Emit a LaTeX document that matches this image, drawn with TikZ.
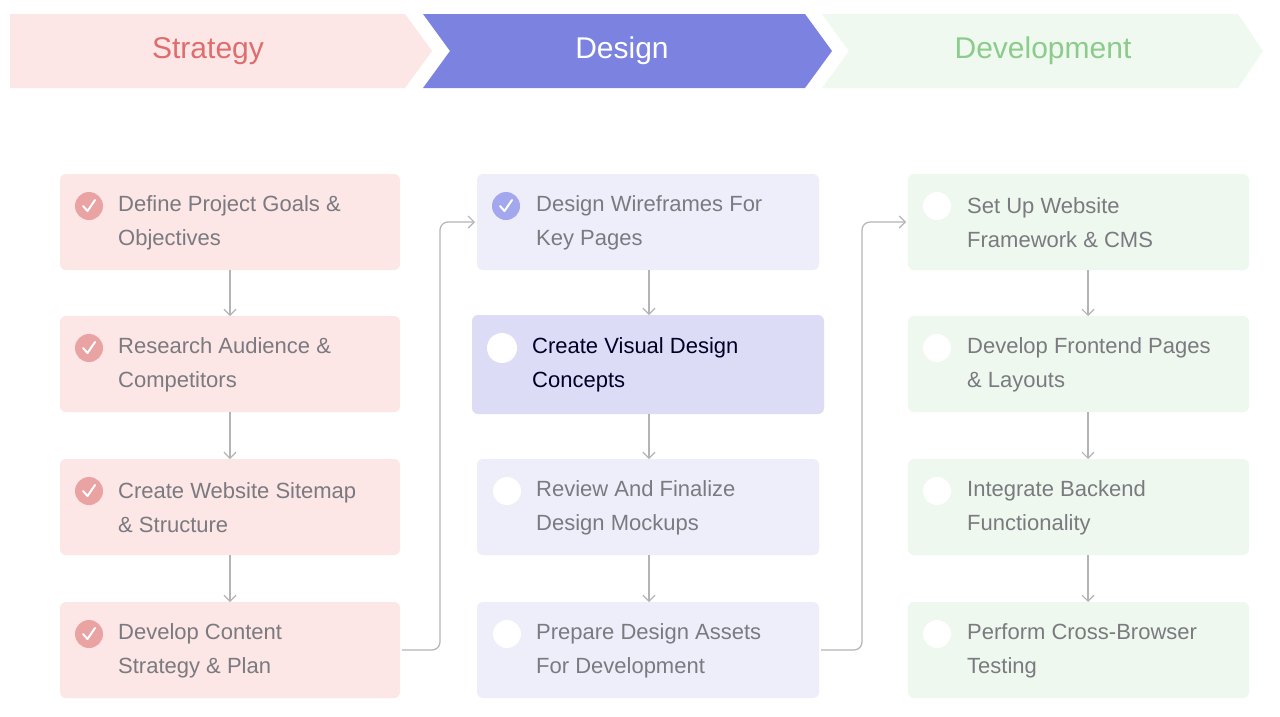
\documentclass[tikz,border=0pt]{standalone}
\usepackage{fontspec}
\setmainfont{Liberation Sans}
\usetikzlibrary{arrows.meta}
\definecolor{spink}{HTML}{FCE6E6}
\definecolor{stext}{HTML}{DE6E6E}
\definecolor{scheck}{HTML}{E9A3A3}
\definecolor{dban}{HTML}{7B82E0}
\definecolor{dbox}{HTML}{EEEEFB}
\definecolor{dhi}{HTML}{DCDCF6}
\definecolor{dcheck}{HTML}{A3A7EE}
\definecolor{gban}{HTML}{EFF9EF}
\definecolor{gtext}{HTML}{8CCB8C}
\definecolor{gbox}{HTML}{EEF8EE}
\definecolor{tgrey}{HTML}{7A7A80}
\definecolor{lgrey}{HTML}{B4B4B8}
\begin{document}
\begin{tikzpicture}[x=1pt,y=-1pt,
  box/.style={rounded corners=6pt,draw=none},
  lbl/.style={anchor=west,align=left,font=\fontsize{22}{34}\selectfont,text=tgrey,inner sep=0pt},
  ban/.style={font=\fontsize{30}{36}\selectfont},
  arr/.style={draw=lgrey,line width=1.2pt,-{Straight Barb[length=6pt,width=12pt]}},
  con/.style={draw=lgrey,line width=1.2pt,rounded corners=8pt,-{Straight Barb[length=6pt,width=12pt]}}]
\useasboundingbox (0,0) rectangle (1280,716);
\fill[white] (0,0) rectangle (1280,716);
% banners
\fill[spink] (10,14) -- (405,14) -- (432,51) -- (405,88) -- (10,88) -- cycle;
\fill[dban] (423,14) -- (805,14) -- (832,51) -- (805,88) -- (423,88) -- (450,51) -- cycle;
\fill[gban] (822,14) -- (1238,14) -- (1263,51) -- (1238,88) -- (822,88) -- (849,51) -- cycle;
\node[ban,text=stext] (hs) at (208,51) {Strategy};
\node[ban,text=white] (hd) at (622,51) {Design};
\node[ban,text=gtext] (hv) at (1043,51) {Development};
% boxes
\foreach \n/\y/\t in {s1/174/{Define Project Goals \&\\Objectives},s2/316/{Research Audience \&\\Competitors},s3/459/{Create Website Sitemap\\\& Structure},s4/602/{Develop Content\\Strategy \& Plan}}{
  \path[box,fill=spink] (60,\y) rectangle (400,\y+96);
  \coordinate (\n t) at (230,\y); \coordinate (\n b) at (230,\y+96);
  \fill[scheck] (89,\y+32) circle (14);
  \draw[white,line width=2pt,line cap=round,line join=round] (83,\y+32) -- (87.5,\y+37) -- (95,\y+26);
  \node[lbl] (\n) at (118,\y+49) {\t};
}
\foreach \n/\y/\t in {d1/174/{Design Wireframes For\\Key Pages},d3/459/{Review And Finalize\\Design Mockups},d4/602/{Prepare Design Assets\\For Development}}{
  \path[box,fill=dbox] (477,\y) rectangle (819,\y+96);
  \coordinate (\n t) at (649,\y); \coordinate (\n b) at (649,\y+96);
  \node[lbl] (\n) at (536,\y+49) {\t};
}
\fill[dcheck] (506,206) circle (14);
\draw[white,line width=2pt,line cap=round,line join=round] (500,206) -- (504.5,211) -- (512,200);
\fill[white] (507,491) circle (14);
\fill[white] (507,634) circle (14);
\path[box,fill=dhi] (472,315) rectangle (824,414);
\coordinate (d2t) at (649,315); \coordinate (d2b) at (649,414);
\fill[white] (502,348) circle (15);
\node[lbl,text=black!85!blue] (d2) at (532,365) {Create Visual Design\\Concepts};
\foreach \n/\y/\t in {v1/174/{Set Up Website\\Framework \& CMS},v2/316/{Develop Frontend Pages\\\& Layouts},v3/459/{Integrate Backend\\Functionality},v4/602/{Perform Cross-Browser\\Testing}}{
  \path[box,fill=gbox] (908,\y) rectangle (1249,\y+96);
  \coordinate (\n t) at (1088,\y); \coordinate (\n b) at (1088,\y+96);
  \fill[white] (937,\y+32) circle (14);
  \node[lbl] (\n) at (967,\y+49) {\t};
}
% arrows
\foreach \a/\b in {s1/s2,s2/s3,s3/s4,d1/d2,d2/d3,d3/d4,v1/v2,v2/v3,v3/v4}{
  \draw[arr] (\a b) -- (\b t);
}
\coordinate (c1s) at (402,650); \coordinate (c1e) at (475,222);
\coordinate (c2s) at (821,650); \coordinate (c2e) at (906,222);
\draw[con] (c1s) -- (440,650) -- (440,222) -- (c1e);
\draw[con] (c2s) -- (862,650) -- (862,222) -- (c2e);
\end{tikzpicture}
\end{document}
